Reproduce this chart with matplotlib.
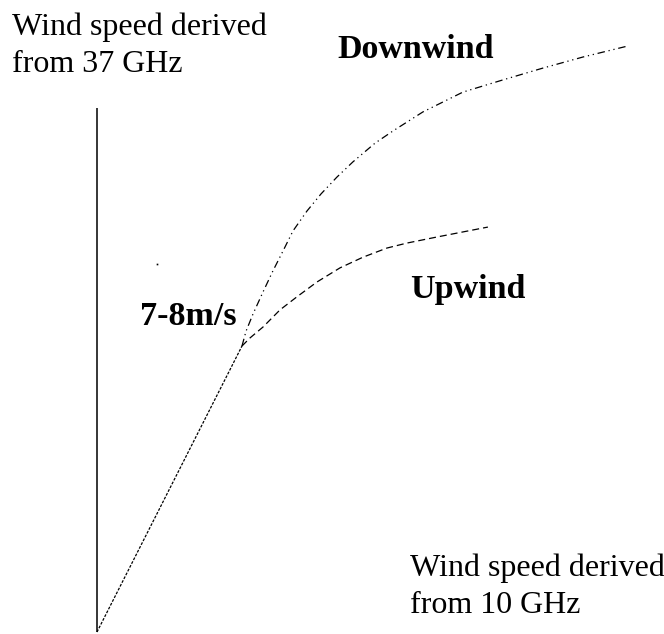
import matplotlib
matplotlib.use("Agg")
import matplotlib.pyplot as plt

# schematic: wind speed from 10 GHz (x) vs from 37 GHz (y), arbitrary units
# both channels agree up to the 7-8 m/s break point
linear_x = [0.0, 7.5]
linear_y = [0.0, 7.5]

downwind_x = [7.50, 7.71, 8.07, 8.59, 9.10, 9.62, 10.14, 10.86, 11.59, 12.41,
              13.24, 14.38, 15.31, 16.86, 18.93, 21.00, 23.07, 25.14, 27.47]
downwind_y = [7.50, 7.89, 8.34, 8.92, 9.47, 9.99, 10.52, 11.04, 11.49, 11.93,
              12.33, 12.82, 13.14, 13.64, 14.16, 14.48, 14.79, 15.08, 15.37]

upwind_x = [7.50, 7.91, 8.59, 9.47, 10.34, 11.38, 12.57, 13.76, 15.00, 16.03,
            17.59, 20.22]
upwind_y = [7.50, 7.71, 8.00, 8.45, 8.79, 9.18, 9.55, 9.83, 10.07, 10.20,
            10.36, 10.62]

axis_top = 13.73
stray_dot = (3.10, 9.65)

plt.rcParams['font.family'] = ['Liberation Serif', 'DejaVu Serif']

fig = plt.figure(figsize=(6.64, 6.34), dpi=100)
ax = fig.add_axes([0, 0, 1, 1])
ax.set_xlim(-5.017, 29.33)
ax.set_ylim(-0.052, 16.575)
ax.axis('off')

lw = 0.9
ax.plot([0, 0], [0, axis_top], color='black', lw=1.1, solid_capstyle='butt')
ax.plot(linear_x, linear_y, color='black', lw=lw, dashes=(2.2, 1.2))
ax.plot(downwind_x, downwind_y, color='black', lw=lw,
        dashes=(6, 3, 1, 3, 1, 3))
ax.plot(upwind_x, upwind_y, color='black', lw=lw, dashes=(5.6, 3.2))
ax.plot(*stray_dot, 's', color='black', ms=1.2, mew=0)

# va='baseline' on multi-line text anchors the last line
fig.text(12 / 664, 1 - 72 / 634, 'Wind speed derived\nfrom 37 GHz',
         fontsize=23, va='baseline', ha='left', linespacing=1.36)
fig.text(410 / 664, 1 - 613 / 634, 'Wind speed derived\nfrom 10 GHz',
         fontsize=23, va='baseline', ha='left', linespacing=1.36)
fig.text(337 / 664, 1 - 58 / 634, 'Downwind', fontsize=24.5,
         fontweight='bold', va='baseline', ha='left')
fig.text(410 / 664, 1 - 298 / 634, 'Upwind', fontsize=24.5,
         fontweight='bold', va='baseline', ha='left')
fig.text(140 / 664, 1 - 325 / 634, '7-8m/s', fontsize=24.5,
         fontweight='bold', va='baseline', ha='left')

fig.savefig('out.png', dpi=100, facecolor='white')
